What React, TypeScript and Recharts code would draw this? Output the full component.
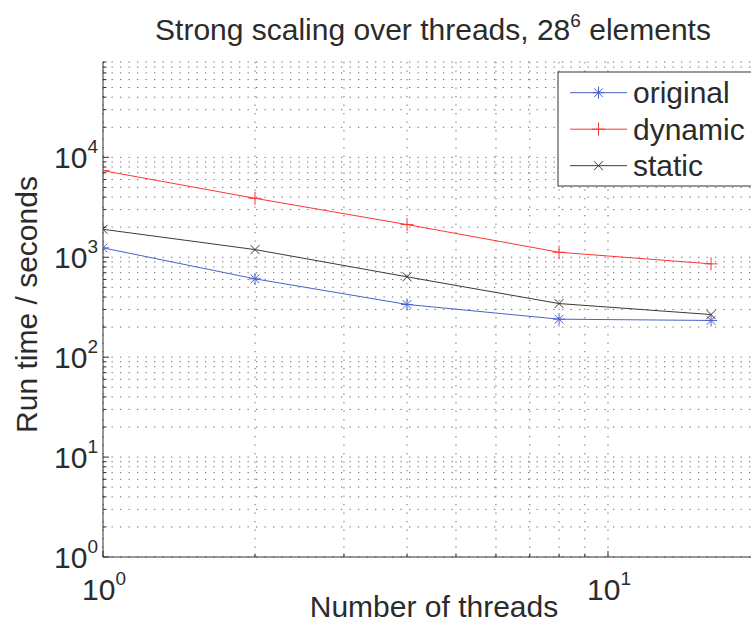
import React from 'react';
import { LineChart, Line, XAxis, YAxis, CartesianGrid } from 'recharts';

// ---- data ----
const threads = [1, 2, 4, 8, 16];
const originalTimes = [1242, 608, 337, 240, 233];
const dynamicTimes = [7362, 3890, 2124, 1122, 859];
const staticTimes = [1905, 1194, 637, 344, 267];

const xTicks = [1, 2, 3, 4, 5, 6, 7, 8, 9, 10, 20];
const yTicks = [
  1, 2, 3, 4, 5, 6, 7, 8, 9,
  10, 20, 30, 40, 50, 60, 70, 80, 90,
  100, 200, 300, 400, 500, 600, 700, 800, 900,
  1000, 2000, 3000, 4000, 5000, 6000, 7000, 8000, 9000,
  10000, 20000, 30000, 40000, 50000, 60000, 70000, 80000, 90000,
];

const titleMain = 'Strong scaling over threads, 28';
const titleSup = '6';
const titleEnd = ' elements';
const xLabel = 'Number of threads';
const yLabel = 'Run time / seconds';

const series = [
  { key: 'original', name: 'original', values: originalTimes, color: '#4a62c8', marker: 'asterisk' },
  { key: 'dynamic', name: 'dynamic', values: dynamicTimes, color: '#ff3535', marker: 'plus' },
  { key: 'static', name: 'static', values: staticTimes, color: '#3a3a3a', marker: 'cross' },
];

const data = threads.map((t, i) => {
  const row: any = { threads: t };
  series.forEach((s) => {
    row[s.key] = s.values[i];
  });
  return row;
});

const FONT = '"Liberation Sans", Arial, Helvetica, sans-serif';
const TEXT = '#2b2b2b';
const AXIS = '#333333';

const isMajor = (v: number) => {
  const e = Math.round(Math.log10(v));
  return Math.abs(Math.pow(10, e) - v) < 1e-6 * v;
};

const Marker = ({ cx, cy, shape, color }: any) => {
  if (cx == null || cy == null) return null;
  if (shape === 'asterisk') {
    const r = 6;
    const d = r * 0.72;
    return (
      <g stroke={color} strokeWidth={1}>
        <line x1={cx - r} x2={cx + r} y1={cy} y2={cy} />
        <line x1={cx} x2={cx} y1={cy - r} y2={cy + r} />
        <line x1={cx - d} x2={cx + d} y1={cy - d} y2={cy + d} />
        <line x1={cx - d} x2={cx + d} y1={cy + d} y2={cy - d} />
      </g>
    );
  }
  if (shape === 'plus') {
    const r = 6.5;
    return (
      <g stroke={color} strokeWidth={1}>
        <line x1={cx - r} x2={cx + r} y1={cy} y2={cy} />
        <line x1={cx} x2={cx} y1={cy - r} y2={cy + r} />
      </g>
    );
  }
  const r = 4.5;
  return (
    <g stroke={color} strokeWidth={1}>
      <line x1={cx - r} x2={cx + r} y1={cy - r} y2={cy + r} />
      <line x1={cx - r} x2={cx + r} y1={cy + r} y2={cy - r} />
    </g>
  );
};

const YTick = (props: any) => {
  const { x, y, payload } = props;
  const v = payload.value;
  const major = isMajor(v);
  const e = Math.round(Math.log10(v));
  return (
    <g>
      <line x1={x} x2={x + (major ? 6 : 3.5)} y1={y} y2={y} stroke={AXIS} strokeWidth={1} />
      {major && (
        <text x={x - 5} y={y + 11} textAnchor="end" fontSize={30} fill={TEXT} fontFamily={FONT}>
          10
          <tspan dy={-15} fontSize={19}>{e}</tspan>
        </text>
      )}
    </g>
  );
};

const XTickBottom = (props: any) => {
  const { x, y, payload } = props;
  const v = payload.value;
  const major = isMajor(v);
  const e = Math.round(Math.log10(v));
  return (
    <g>
      <line x1={x} x2={x} y1={y} y2={y - (major ? 6 : 3.5)} stroke={AXIS} strokeWidth={1} />
      {major && (
        <text x={x + 1} y={y + 43} textAnchor="middle" fontSize={30} fill={TEXT} fontFamily={FONT}>
          10
          <tspan dy={-15} fontSize={19}>{e}</tspan>
        </text>
      )}
    </g>
  );
};

const XTickTop = (props: any) => {
  const { x, y, payload } = props;
  const major = isMajor(payload.value);
  return <line x1={x} x2={x} y1={y} y2={y + (major ? 6 : 3.5)} stroke={AXIS} strokeWidth={1} />;
};

export default function App() {
  const legendX = 558;
  const legendY = 72;
  const rowGap = 36.5;
  return (
    <div
      style={{
        position: 'absolute',
        left: 0,
        top: 0,
        width: 751,
        height: 634,
        overflow: 'hidden',
        background: '#ffffff',
      }}
    >
      <LineChart width={762} height={634} data={data} margin={{ top: 62, right: 2, left: 3, bottom: 17 }}>
        <CartesianGrid stroke="#6a6a6a" strokeWidth={1} strokeDasharray="1.3 7.2" />
        <XAxis
          dataKey="threads"
          type="number"
          scale="log"
          domain={[1, 20]}
          ticks={xTicks}
          interval={0}
          height={60}
          tickSize={0}
          tickMargin={0}
          tickLine={false}
          axisLine={{ stroke: AXIS, strokeWidth: 1 }}
          tick={<XTickBottom />}
          allowDataOverflow
        />
        <XAxis
          xAxisId="top"
          orientation="top"
          dataKey="threads"
          type="number"
          scale="log"
          domain={[1, 20]}
          ticks={xTicks}
          interval={0}
          height={0}
          tickSize={0}
          tickMargin={0}
          tickLine={false}
          axisLine={{ stroke: AXIS, strokeWidth: 1 }}
          tick={<XTickTop />}
          allowDataOverflow
        />
        <YAxis
          type="number"
          scale="log"
          domain={[1, 90000]}
          ticks={yTicks}
          interval={0}
          width={100}
          tickSize={0}
          tickMargin={0}
          tickLine={false}
          axisLine={{ stroke: AXIS, strokeWidth: 1 }}
          tick={<YTick />}
          allowDataOverflow
        />
        {series.map((s) => (
          <Line
            key={s.key}
            dataKey={s.key}
            name={s.name}
            stroke={s.color}
            strokeWidth={1}
            isAnimationActive={false}
            dot={(p: any) => <Marker key={`${s.key}-${p.index}`} cx={p.cx} cy={p.cy} shape={s.marker} color={s.color} />}
            activeDot={false}
          />
        ))}
      </LineChart>
      <svg
        width={751}
        height={634}
        style={{ position: 'absolute', left: 0, top: 0, pointerEvents: 'none' }}
      >
        <text x={433} y={40} textAnchor="middle" fontSize={30} fill={TEXT} fontFamily={FONT}>
          {titleMain}
          <tspan dy={-13} fontSize={19}>{titleSup}</tspan>
          <tspan dy={13}>{titleEnd}</tspan>
        </text>
        <text x={434} y={617} textAnchor="middle" fontSize={30} fill={TEXT} fontFamily={FONT}>
          {xLabel}
        </text>
        <text
          transform="translate(37, 304.5) rotate(-90)"
          x={0}
          y={0}
          textAnchor="middle"
          fontSize={30}
          fill={TEXT}
          fontFamily={FONT}
        >
          {yLabel}
        </text>
        <rect x={legendX} y={legendY} width={200} height={114} fill="#ffffff" stroke={AXIS} strokeWidth={1} />
        {series.map((s, i) => {
          const cy = legendY + 20.7 + i * rowGap;
          return (
            <g key={s.key}>
              <line x1={legendX + 12} x2={legendX + 69} y1={cy} y2={cy} stroke={s.color} strokeWidth={1} />
              <Marker cx={legendX + 40.5} cy={cy} shape={s.marker} color={s.color} />
              <text x={legendX + 75} y={cy + 10.6} fontSize={30} fill={TEXT} fontFamily={FONT}>
                {s.name}
              </text>
            </g>
          );
        })}
      </svg>
    </div>
  );
}
